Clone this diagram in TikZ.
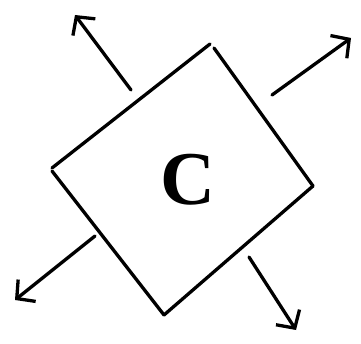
\documentclass[tikz,border=0pt]{standalone}
\usepackage{fontspec}
\setmainfont{Liberation Serif}
\usepackage{tikz}
\usetikzlibrary{arrows.meta}

\begin{document}
\begin{tikzpicture}[
  x=1pt, y=-1pt,
  side/.style={line width=3.3pt, line cap=round, line join=round},
  arr/.style={side, -{Straight Barb[length=13pt, width=28pt, line width=3.3pt]}},
  lbl/.style={font=\fontsize{76}{80}\selectfont\bfseries, inner sep=0pt}
]
\useasboundingbox (0,0) rectangle (361,344);
% square corners
\coordinate (T) at (212,45);
\coordinate (R) at (313,186);
\coordinate (B) at (164,315);
\coordinate (L) at (52,168);
\node[lbl] (C) at (188,180) {C};

\draw[side] (L) -- (210,44);
\draw[side] (214,48) -- (R);
\draw[side] (R) -- (B);
\draw[side] (B) -- (52,171);

% outgoing arrows
\coordinate (tl0) at (131,90);  \coordinate (tl1) at (75,15);
\coordinate (tr0) at (272,95);  \coordinate (tr1) at (351,38);
\coordinate (bl0) at (95,236);  \coordinate (bl1) at (15,300);
\coordinate (br0) at (249,257); \coordinate (br1) at (296,330);
\draw[arr] (tl0) -- (tl1);
\draw[arr] (tr0) -- (tr1);
\draw[arr] (bl0) -- (bl1);
\draw[arr] (br0) -- (br1);
\end{tikzpicture}
\end{document}
